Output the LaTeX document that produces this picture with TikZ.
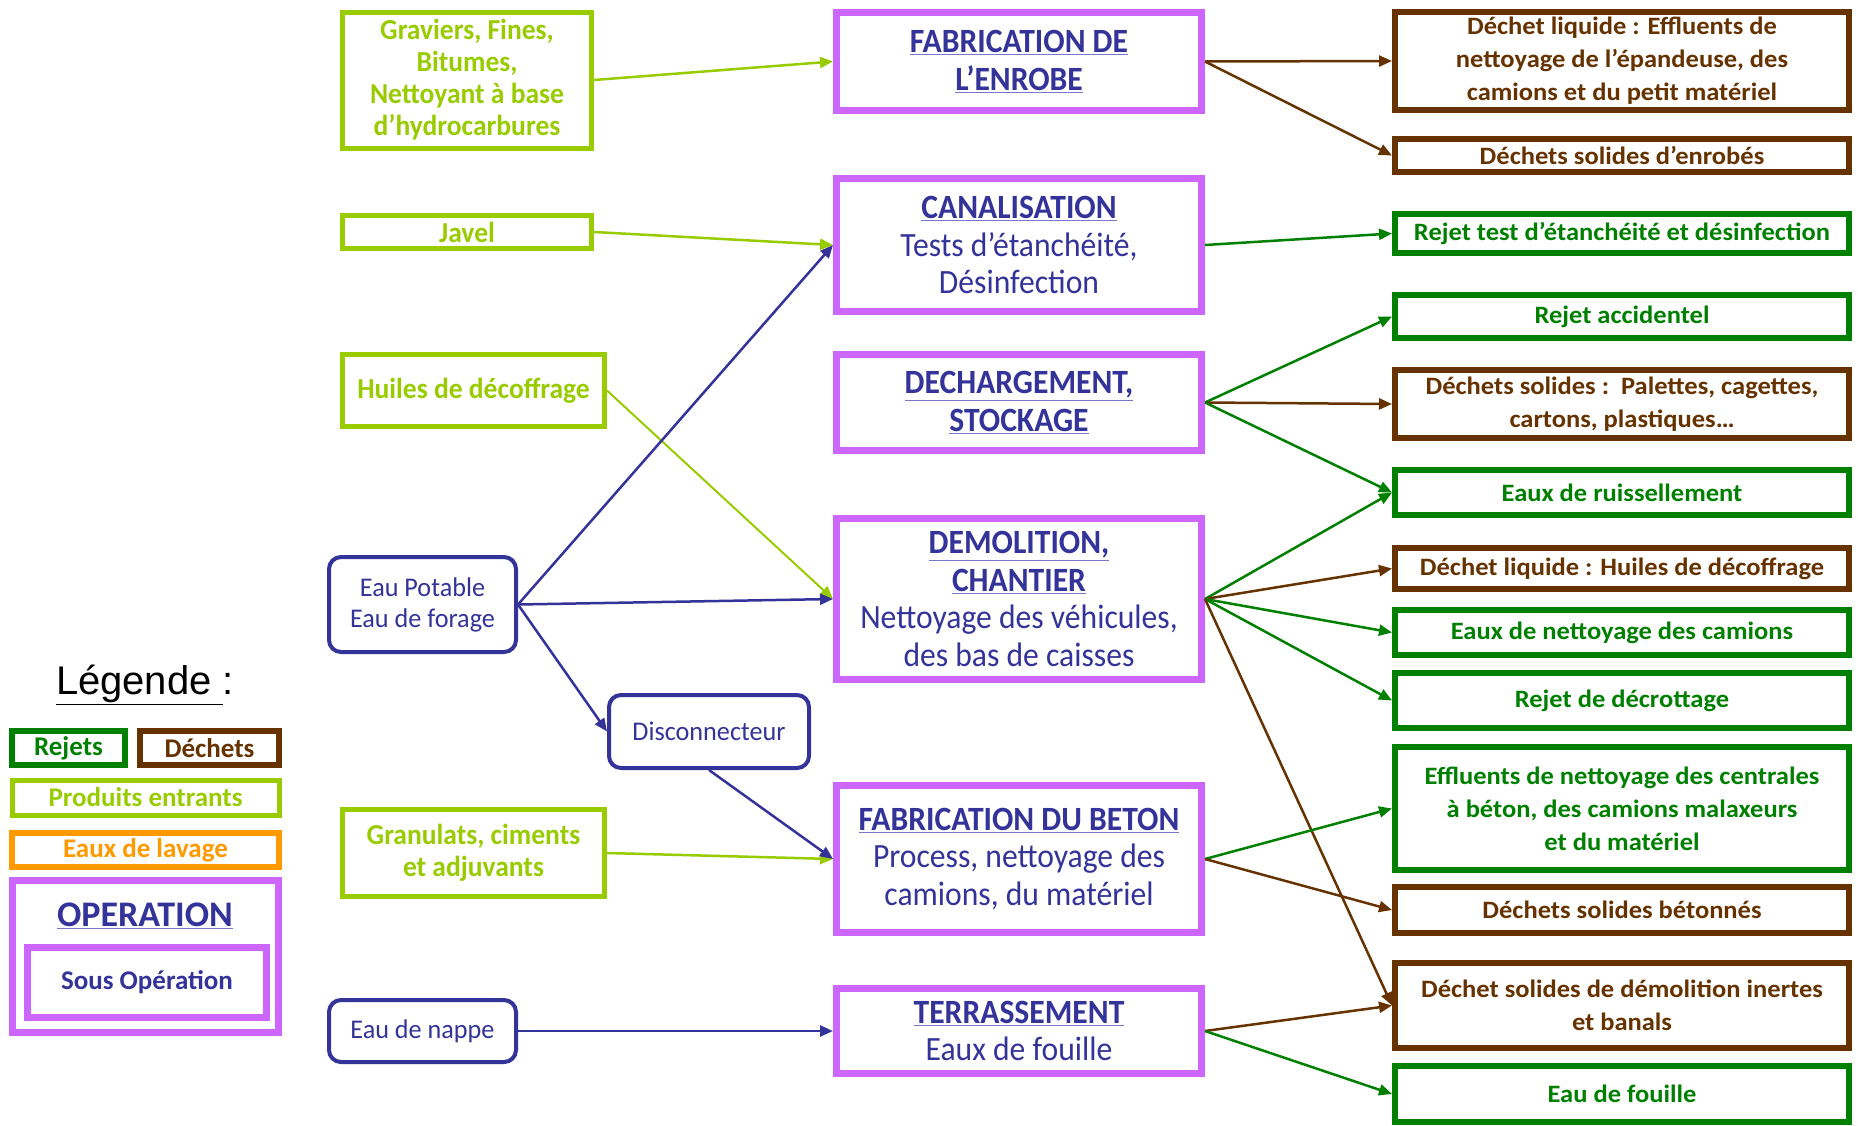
\documentclass[tikz,border=0pt]{standalone}
\usepackage{fontspec}
\setmainfont{Carlito}
\newfontfamily\condf[FakeStretch=0.93]{Carlito}
\newfontfamily\inputf[FakeStretch=0.95]{Carlito}
\newfontfamily\bluef[FakeStretch=0.97]{Carlito}
\newfontfamily\widef[FakeStretch=1.06]{Carlito}
\newfontfamily\arialf{Liberation Sans}
\usetikzlibrary{arrows.meta}
\definecolor{cViolet}{HTML}{CC66FF}
\definecolor{cBlue}{HTML}{333399}
\definecolor{cUline}{HTML}{7777CC}
\definecolor{cLime}{HTML}{99CC00}
\definecolor{cGreen}{HTML}{008000}
\definecolor{cBrown}{HTML}{663300}
\definecolor{cOrange}{HTML}{FF9900}
\newcommand\opul[1]{{\color{cUline}\underline{\color{cBlue}\bfseries #1}}}
\tikzset{
  boxbase/.style={draw, inner sep=0pt, align=center},
  inbox/.style={boxbase, draw=cLime, line width=5pt, text=cLime, font=\inputf\bfseries\fontsize{29}{32}\selectfont},
  bluebox/.style={boxbase, draw=cBlue, line width=4pt, rounded corners=12pt, text=cBlue, font=\bluef\fontsize{27}{31}\selectfont},
  opbox/.style={boxbase, draw=cViolet, line width=7pt, text=cBlue, font=\condf\fontsize{34}{37.5}\selectfont},
  outbrown/.style={boxbase, draw=cBrown, line width=6pt, text=cBrown, font=\widef\bfseries\fontsize{25}{33}\selectfont},
  outgreen/.style={boxbase, draw=cGreen, line width=6pt, text=cGreen, font=\widef\bfseries\fontsize{25}{33}\selectfont},
  legbox/.style={boxbase, line width=6pt, font=\bfseries\fontsize{27}{32}\selectfont},
  arr/.style={-{Triangle[length=13pt,width=11pt]}, line width=2.5pt},
}
\begin{document}
\begin{tikzpicture}[x=1pt,y=-1pt]
\useasboundingbox[fill=white] (0,0) rectangle (1858,1125);

% ---------- inputs ----------
\node[inbox, minimum width=249pt, minimum height=136pt] (i1) at (467,80)
  {Graviers, Fines,\\Bitumes,\\Nettoyant à base\\d’hydrocarbures};
\node[inbox, minimum width=249pt, minimum height=33pt] (i2) at (467,232) {Javel};
\node[inbox, minimum width=262pt, minimum height=72pt] (i3) at (473.5,390.5) {Huiles de décoffrage};
\node[inbox, minimum width=262pt, minimum height=87pt] (i4) at (473.5,853) {Granulats, ciments\\et adjuvants};

\node[bluebox, minimum width=187pt, minimum height=95pt] (b1) at (422.5,604.5) {Eau Potable\\Eau de forage};
\node[bluebox, minimum width=200pt, minimum height=73pt] (b2) at (709,731.5) {Disconnecteur};
\node[bluebox, minimum width=187pt, minimum height=62pt] (b3) at (422.5,1031) {Eau de nappe};

% ---------- operations ----------
\node[opbox, minimum width=365pt, minimum height=98pt] (m1) at (1019,61.5)
  {\opul{FABRICATION DE}\\\opul{L’ENROBE}};
\node[opbox, minimum width=365pt, minimum height=133pt] (m2) at (1019,245)
  {\opul{CANALISATION}\\Tests d’étanchéité,\\Désinfection};
\node[opbox, minimum width=365pt, minimum height=96pt] (m3) at (1019,402.5)
  {\opul{DECHARGEMENT,}\\\opul{STOCKAGE}};
\node[opbox, minimum width=365pt, minimum height=161pt] (m4) at (1019,599)
  {\opul{DEMOLITION,}\\\opul{CHANTIER}\\Nettoyage des véhicules,\\des bas de caisses};
\node[opbox, minimum width=365pt, minimum height=147pt] (m5) at (1019,859)
  {\opul{FABRICATION DU BETON}\\Process, nettoyage des\\camions, du matériel};
\node[opbox, minimum width=365pt, minimum height=85pt] (m6) at (1019,1031)
  {\opul{TERRASSEMENT}\\Eaux de fouille};

% ---------- outputs ----------
\node[outbrown, minimum width=454pt, minimum height=98pt] (o1) at (1622,61)
  {Déchet liquide : Effluents de\\nettoyage de l’épandeuse, des\\camions et du petit matériel};
\node[outbrown, minimum width=454pt, minimum height=33pt] (o2) at (1622,155.5) {Déchets solides d’enrobés};
\node[outgreen, minimum width=454pt, minimum height=39pt] (o3) at (1622,233.5) {Rejet test d’étanchéité et désinfection};
\node[outgreen, minimum width=454pt, minimum height=43pt] (o4) at (1622,316.5) {Rejet accidentel};
\node[outbrown, minimum width=454pt, minimum height=68pt] (o5) at (1622,404)
  {Déchets solides :\ \ Palettes, cagettes,\\cartons, plastiques…};
\node[outgreen, minimum width=454pt, minimum height=45pt] (o6) at (1622,492.5) {Eaux de ruissellement};
\node[outbrown, minimum width=454pt, minimum height=41pt] (o7) at (1622,568.5) {Déchet liquide : Huiles de décoffrage};
\node[outgreen, minimum width=454pt, minimum height=45pt] (o8) at (1622,632.5) {Eaux de nettoyage des camions};
\node[outgreen, minimum width=454pt, minimum height=55pt] (o9) at (1622,700.5) {Rejet de décrottage};
\node[outgreen, minimum width=454pt, minimum height=123pt] (o10) at (1622,808.5)
  {Effluents de nettoyage des centrales\\à béton, des camions malaxeurs\\et du matériel};
\node[outbrown, minimum width=454pt, minimum height=46pt] (o11) at (1622,910) {Déchets solides bétonnés};
\node[outbrown, minimum width=454pt, minimum height=85pt] (o12) at (1622,1005.5)
  {Déchet solides de démolition inertes\\et banals};
\node[outgreen, minimum width=454pt, minimum height=56pt] (o13) at (1622,1094) {Eau de fouille};

% ---------- legend ----------
\node[inner sep=0pt, font=\arialf\fontsize{40}{46}\selectfont] (leg) at (145,685) {\underline{Légende\ }:};
\node[legbox, draw=cGreen, text=cGreen, minimum width=113pt, minimum height=34pt] (l1) at (68.5,748) {Rejets};
\node[legbox, draw=cBrown, text=cBrown, minimum width=139pt, minimum height=34pt] (l2) at (209.5,748) {Déchets};
\node[legbox, draw=cLime, text=cLime, line width=5pt, minimum width=267pt, minimum height=35pt] (l3) at (145.5,797.5) {Produits entrants};
\node[legbox, draw=cOrange, text=cOrange, minimum width=267pt, minimum height=34pt] (l4) at (145.5,850) {Eaux de lavage};
\node[legbox, draw=cViolet, line width=7pt, minimum width=266pt, minimum height=152pt] (l5) at (145.5,956.5) {};
\node[inner sep=0pt, font=\fontsize{36}{40}\selectfont] (l5t) at (145,916) {\opul{OPERATION}};
\node[legbox, draw=cViolet, line width=7pt, text=cBlue, minimum width=239pt, minimum height=70pt] (l6) at (147,982.5) {Sous Opération};

% ---------- connectors in ----------
\draw[arr, cLime] (i1.east) -- (m1.west);
\draw[arr, cLime] (i2.east) -- (m2.west);
\draw[arr, cLime, line width=2pt] (i3.east) -- (m4.west);
\draw[arr, cLime] (i4.east) -- (m5.west);
\draw[arr, cBlue] (b1.east) -- (m2.west);
\draw[arr, cBlue] (b1.east) -- (m4.west);
\draw[arr, cBlue] (b1.east) -- (b2.west);
\draw[arr, cBlue] (b2.south) -- (m5.west);
\draw[arr, cBlue] (b3.east) -- (m6.west);

% ---------- connectors out ----------
\draw[arr, cBrown] (m1.east) -- (o1.west);
\draw[arr, cBrown] (m1.east) -- (o2.west);
\draw[arr, cGreen] (m2.east) -- (o3.west);
\draw[arr, cGreen] (m3.east) -- (o4.west);
\draw[arr, cBrown] (m3.east) -- (o5.west);
\draw[arr, cGreen] (m3.east) -- (o6.west);
\draw[arr, cGreen] (m4.east) -- (o6.west);
\draw[arr, cBrown] (m4.east) -- (o7.west);
\draw[arr, cGreen] (m4.east) -- (o8.west);
\draw[arr, cGreen] (m4.east) -- (o9.west);
\draw[arr, cBrown] (m4.east) -- (o12.west);
\draw[arr, cGreen] (m5.east) -- (o10.west);
\draw[arr, cBrown] (m5.east) -- (o11.west);
\draw[arr, cBrown] (m6.east) -- (o12.west);
\draw[arr, cGreen] (m6.east) -- (o13.west);
\end{tikzpicture}
\end{document}
